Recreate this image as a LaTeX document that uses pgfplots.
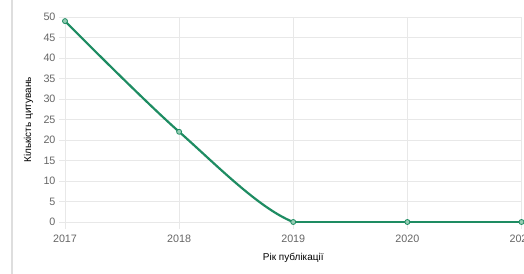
\documentclass[border=0pt]{standalone}
\usepackage{fontspec}
\setmainfont{Liberation Sans}
\usepackage{pgfplots}
\pgfplotsset{compat=1.18}
\definecolor{linegreen}{RGB}{30,140,98}
\definecolor{markfill}{RGB}{150,205,180}
\definecolor{txt}{RGB}{102,102,102}
\definecolor{gridc}{RGB}{232,232,232}
\definecolor{axisc}{RGB}{200,200,200}
\begin{document}
\begin{tikzpicture}
\useasboundingbox (-65bp,-52bp) rectangle (459bp,222bp);
\clip (-65bp,-52bp) rectangle (459bp,222bp);
\draw[color=black!13, line width=1.5bp] (-53bp,-52bp) -- (-53bp,222bp);
\begin{axis}[
  at={(0,-0.984bp)}, anchor=south west,
  scale only axis, width=456.5bp, height=205.984bp,
  xmin=2017, xmax=2021, ymin=-0.24, ymax=50,
  xtick={2017,2018,2019,2020,2021}, ytick={0,5,...,50},
  grid=major, major grid style={gridc, line width=0.8bp},
  extra y ticks={0}, extra y tick labels={},
  extra y tick style={grid style={axisc, line width=0.9bp}, major tick length=0pt},
  axis lines*=left, axis line style={-, gridc, line width=0.9bp},
  x axis line style={draw=none},
  tick align=outside, major tick length=6bp, tick style={gridc, line width=0.8bp},
  ticklabel style={font=\fontsize{10.8}{12}\selectfont, text=txt},
  /pgf/number format/assume math mode=true,
  /pgf/number format/1000 sep={},
  xticklabel style={yshift=-2.2bp},
  xlabel={Рік публікації}, ylabel={Кількість цитувань},
  label style={font=\fontsize{9.5}{11}\selectfont, text=txt},
  every axis x label/.style={at={(axis description cs:0.5,-0.1700)}, anchor=center},
  every axis y label/.style={at={(axis description cs:-0.080,0.5)}, rotate=90, anchor=center},
  clip=true,
]
\addplot[linegreen, line width=2.2bp, smooth, tension=0.55] coordinates {(2017,49) (2018,22) (2019,0) (2020,0)};
\addplot[linegreen, line width=2.2bp] coordinates {(2019,0) (2020,0) (2021,0)};
\addplot[only marks, mark=*, mark size=2.5bp, mark options={draw=linegreen, fill=markfill, line width=0.8bp}] coordinates {(2017,49) (2018,22) (2019,0) (2020,0) (2021,0)};
\end{axis}
\end{tikzpicture}
\end{document}
